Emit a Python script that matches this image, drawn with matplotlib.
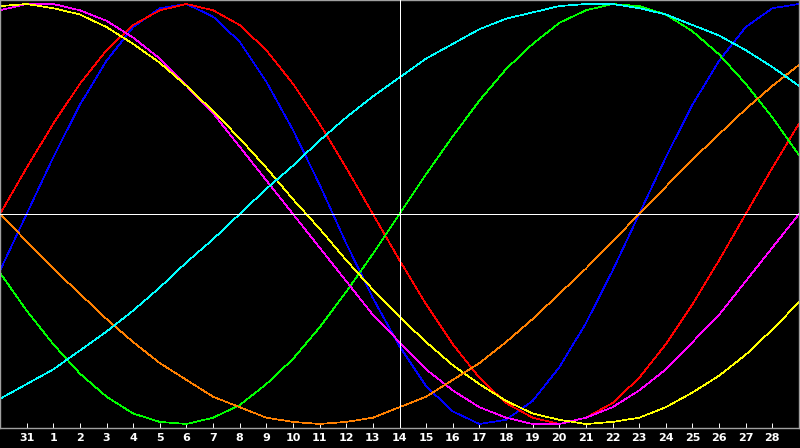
import matplotlib
matplotlib.use("Agg")
import matplotlib.pyplot as plt
import numpy as np

# Day labels (ticks) - day 14 is the marked "today"
day_labels = ["31"] + [str(d) for d in range(1, 29)]
today_label = "14"

# Values in percent, one point per day from the left edge (day 30 of the previous month) to the right edge (day 29)
physical_23 = [-27, 0, 27, 52, 73, 89, 98, 100, 94, 82, 63, 40, 14, -14, -40, -63,
               -82, -94, -100, -98, -89, -73, -52, -27, 0, 27, 52, 73, 89, 98, 100]
emotional_28 = [0, 22, 43, 62, 78, 90, 97, 100, 97, 90, 78, 62, 43, 22, 0, -22,
                -43, -62, -78, -90, -97, -100, -97, -90, -78, -62, -43, -22, 0, 22, 43]
intellectual_33 = [-28, -46, -62, -76, -87, -95, -99, -100, -97, -91, -81, -69, -54, -37, -19, 0,
                   19, 37, 54, 69, 81, 91, 97, 100, 99, 95, 87, 76, 62, 46, 28]
intuitive_38 = [97, 100, 100, 97, 92, 84, 74, 61, 48, 32, 16, 0, -16, -32, -48, -61,
                -74, -84, -92, -97, -100, -100, -97, -92, -84, -74, -61, -48, -32, -16, 0]
aesthetic_43 = [99, 100, 98, 95, 89, 81, 72, 61, 49, 36, 22, 7, -7, -22, -36, -49,
                -61, -72, -81, -89, -95, -98, -100, -99, -97, -92, -85, -77, -67, -55, -42]
awareness_48 = [0, -13, -26, -38, -50, -61, -71, -79, -87, -92, -97, -99, -100, -99, -97, -92,
                -87, -79, -71, -61, -50, -38, -26, -13, 0, 13, 26, 38, 50, 61, 71]
spiritual_53 = [-88, -81, -74, -65, -56, -46, -35, -23, -12, 0, 12, 23, 35, 46, 56, 65,
                74, 81, 88, 93, 96, 99, 100, 100, 98, 95, 90, 85, 78, 70, 61]

series = [
    (physical_23, "#0000FF"),
    (emotional_28, "#FF0000"),
    (intellectual_33, "#00FF00"),
    (intuitive_38, "#FF00FF"),
    (aesthetic_43, "#FFFF00"),
    (awareness_48, "#FF8000"),
    (spiritual_53, "#00FFFF"),
]

fig = plt.figure(figsize=(8, 4.48), dpi=100, facecolor="black")
ax = fig.add_axes([0.0, 20 / 448, 799 / 800, 428 / 448])
ax.set_facecolor("black")

x = np.arange(len(physical_23))
for vals, col in series:
    ax.plot(x, vals, color=col, lw=0.5, antialiased=False, zorder=2)

# reference lines
tick_pos = np.arange(1, len(day_labels) + 1)
today_x = tick_pos[day_labels.index(today_label)]
ax.axhline(0, color="white", lw=0.6, antialiased=False, zorder=3)
ax.axvline(today_x, color="white", lw=0.6, antialiased=False, zorder=3)

ax.set_xlim(0, len(x) - 1)
ax.set_ylim(-100 * 214 / 210, 100 * 214 / 210)

ax.set_xticks(tick_pos)
ax.set_xticklabels(day_labels, fontfamily="DejaVu Sans", fontweight="bold", fontsize=8, color="white")
ax.tick_params(axis="x", direction="in", length=3.6, width=0.7, color="white", pad=3.5)
ax.set_yticks([])

for side, sp in ax.spines.items():
    sp.set_color("#A0A0A0")
    sp.set_linewidth(1.0)

fig.savefig("out.png", dpi=100, facecolor="black")
